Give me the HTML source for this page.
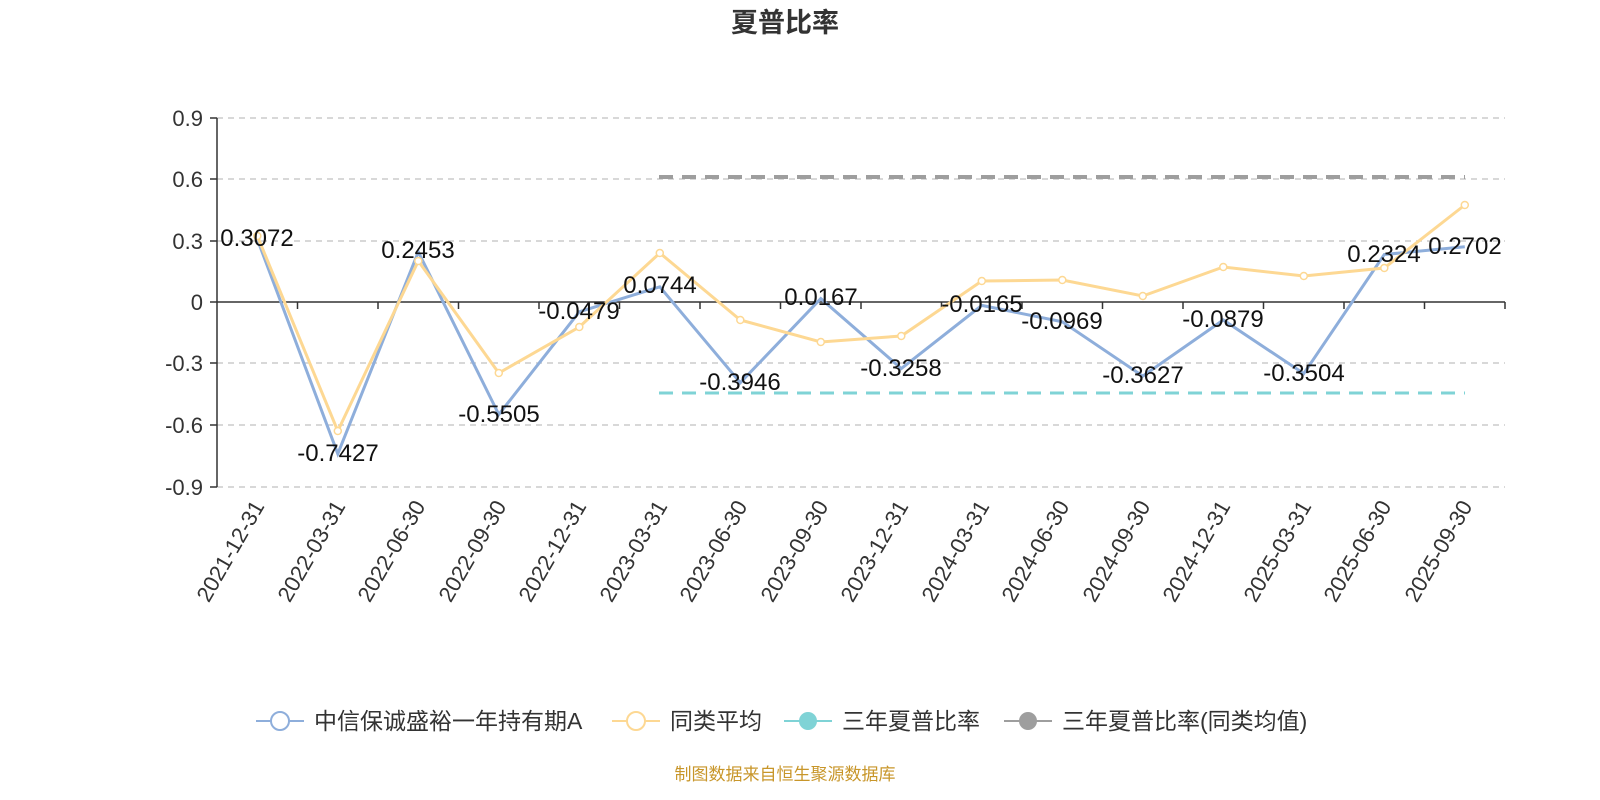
<!DOCTYPE html>
<html><head><meta charset="utf-8"><style>
html,body{margin:0;padding:0;background:#fff;}
svg{display:block;font-family:"Liberation Sans","Noto Sans CJK SC",sans-serif;}
</style></head><body>
<svg width="1600" height="800" viewBox="0 0 1600 800" xmlns="http://www.w3.org/2000/svg">
<text x="785" y="32" text-anchor="middle" font-size="27" font-weight="bold" fill="#333">夏普比率</text>
<g stroke="#ccc" stroke-width="1.5" stroke-dasharray="6,5">
<line x1="217" y1="118" x2="1505" y2="118"/>
<line x1="217" y1="179" x2="1505" y2="179"/>
<line x1="217" y1="241" x2="1505" y2="241"/>
<line x1="217" y1="363" x2="1505" y2="363"/>
<line x1="217" y1="425" x2="1505" y2="425"/>
<line x1="217" y1="487" x2="1505" y2="487"/>
</g>
<line x1="217" y1="118" x2="217" y2="487" stroke="#333" stroke-width="1.5"/>
<line x1="217" y1="302" x2="1505" y2="302" stroke="#333" stroke-width="1.5"/>
<g stroke="#333" stroke-width="1.5">
<line x1="210" y1="118" x2="217" y2="118"/><line x1="210" y1="179" x2="217" y2="179"/><line x1="210" y1="241" x2="217" y2="241"/><line x1="210" y1="302" x2="217" y2="302"/><line x1="210" y1="363" x2="217" y2="363"/><line x1="210" y1="425" x2="217" y2="425"/><line x1="210" y1="487" x2="217" y2="487"/>
<line x1="297.5" y1="302" x2="297.5" y2="309"/><line x1="378" y1="302" x2="378" y2="309"/><line x1="458.5" y1="302" x2="458.5" y2="309"/><line x1="539" y1="302" x2="539" y2="309"/><line x1="619.5" y1="302" x2="619.5" y2="309"/><line x1="700" y1="302" x2="700" y2="309"/><line x1="780.5" y1="302" x2="780.5" y2="309"/><line x1="861" y1="302" x2="861" y2="309"/><line x1="941.5" y1="302" x2="941.5" y2="309"/><line x1="1022" y1="302" x2="1022" y2="309"/><line x1="1102.5" y1="302" x2="1102.5" y2="309"/><line x1="1183" y1="302" x2="1183" y2="309"/><line x1="1263.5" y1="302" x2="1263.5" y2="309"/><line x1="1344" y1="302" x2="1344" y2="309"/><line x1="1424.5" y1="302" x2="1424.5" y2="309"/><line x1="1505" y1="302" x2="1505" y2="309"/>
</g>
<g font-size="22" fill="#333" text-anchor="end">
<text x="203" y="126">0.9</text><text x="203" y="187">0.6</text><text x="203" y="249">0.3</text><text x="203" y="310">0</text><text x="203" y="371">-0.3</text><text x="203" y="433">-0.6</text><text x="203" y="495">-0.9</text>
</g>
<g font-size="22" fill="#333" text-anchor="end">
<text transform="translate(265,506) rotate(-60)">2021-12-31</text>
<text transform="translate(346,506) rotate(-60)">2022-03-31</text>
<text transform="translate(426,506) rotate(-60)">2022-06-30</text>
<text transform="translate(507,506) rotate(-60)">2022-09-30</text>
<text transform="translate(587,506) rotate(-60)">2022-12-31</text>
<text transform="translate(668,506) rotate(-60)">2023-03-31</text>
<text transform="translate(748,506) rotate(-60)">2023-06-30</text>
<text transform="translate(829,506) rotate(-60)">2023-09-30</text>
<text transform="translate(909,506) rotate(-60)">2023-12-31</text>
<text transform="translate(990,506) rotate(-60)">2024-03-31</text>
<text transform="translate(1070,506) rotate(-60)">2024-06-30</text>
<text transform="translate(1151,506) rotate(-60)">2024-09-30</text>
<text transform="translate(1231,506) rotate(-60)">2024-12-31</text>
<text transform="translate(1312,506) rotate(-60)">2025-03-31</text>
<text transform="translate(1392,506) rotate(-60)">2025-06-30</text>
<text transform="translate(1473,506) rotate(-60)">2025-09-30</text>
</g>
<line x1="659" y1="177" x2="1465" y2="177" stroke="#9e9e9e" stroke-width="4" stroke-dasharray="14,9"/>
<line x1="659" y1="393" x2="1465" y2="393" stroke="#7fd3d6" stroke-width="3" stroke-dasharray="14,9"/>
<polyline fill="none" stroke="#8eaedb" stroke-width="3" points="257.3,239.2 337.8,453.8 418.3,251.9 498.8,414.5 579.3,311.8 659.8,286.8 740.3,382.7 820.8,298.6 901.3,368.6 981.8,305.4 1062.3,321.8 1142.8,376.1 1223.3,320 1303.8,373.6 1384.3,254.5 1464.8,246.8"/>
<polyline fill="none" stroke="#fdd893" stroke-width="3" points="257.3,236 337.8,431 418.3,261 498.8,373 579.3,327 659.8,253 740.3,320 820.8,342 901.3,336 981.8,281 1062.3,280 1142.8,296 1223.3,267 1303.8,276 1384.3,268 1464.8,205"/>
<g fill="#fff" stroke="#fdd893" stroke-width="1.5">
<circle cx="257.3" cy="236" r="3.5"/><circle cx="337.8" cy="431" r="3.5"/><circle cx="418.3" cy="261" r="3.5"/><circle cx="498.8" cy="373" r="3.5"/><circle cx="579.3" cy="327" r="3.5"/><circle cx="659.8" cy="253" r="3.5"/><circle cx="740.3" cy="320" r="3.5"/><circle cx="820.8" cy="342" r="3.5"/><circle cx="901.3" cy="336" r="3.5"/><circle cx="981.8" cy="281" r="3.5"/><circle cx="1062.3" cy="280" r="3.5"/><circle cx="1142.8" cy="296" r="3.5"/><circle cx="1223.3" cy="267" r="3.5"/><circle cx="1303.8" cy="276" r="3.5"/><circle cx="1384.3" cy="268" r="3.5"/><circle cx="1464.8" cy="205" r="3.5"/>
</g>
<g font-size="24" fill="#111" text-anchor="middle">
<text x="257" y="246">0.3072</text><text x="338" y="461">-0.7427</text><text x="418" y="258">0.2453</text><text x="499" y="422">-0.5505</text><text x="579" y="319">-0.0479</text><text x="660" y="293">0.0744</text><text x="740" y="390">-0.3946</text><text x="821" y="305">0.0167</text><text x="901" y="376">-0.3258</text><text x="982" y="312">-0.0165</text><text x="1062" y="329">-0.0969</text><text x="1143" y="383">-0.3627</text><text x="1223" y="327">-0.0879</text><text x="1304" y="381">-0.3504</text><text x="1384" y="262">0.2324</text><text x="1465" y="254">0.2702</text>
</g>
<g font-size="23" fill="#333">
<line x1="256" y1="721" x2="304" y2="721" stroke="#8eaedb" stroke-width="2"/><circle cx="280" cy="721" r="9" fill="#fff" stroke="#8eaedb" stroke-width="2"/>
<text x="314" y="729">中信保诚盛裕一年持有期A</text>
<line x1="612" y1="721" x2="660" y2="721" stroke="#fdd893" stroke-width="2"/><circle cx="636" cy="721" r="9" fill="#fff" stroke="#fdd893" stroke-width="2"/>
<text x="670" y="729">同类平均</text>
<line x1="784" y1="721" x2="832" y2="721" stroke="#7fd3d6" stroke-width="2"/><circle cx="808" cy="721" r="9" fill="#7fd3d6"/>
<text x="842" y="729">三年夏普比率</text>
<line x1="1004" y1="721" x2="1052" y2="721" stroke="#9e9e9e" stroke-width="2"/><circle cx="1028" cy="721" r="9" fill="#9e9e9e"/>
<text x="1062" y="729">三年夏普比率(同类均值)</text>
</g>
<text x="785" y="780" text-anchor="middle" font-size="17" fill="#c8962a">制图数据来自恒生聚源数据库</text>
</svg>
</body></html>
